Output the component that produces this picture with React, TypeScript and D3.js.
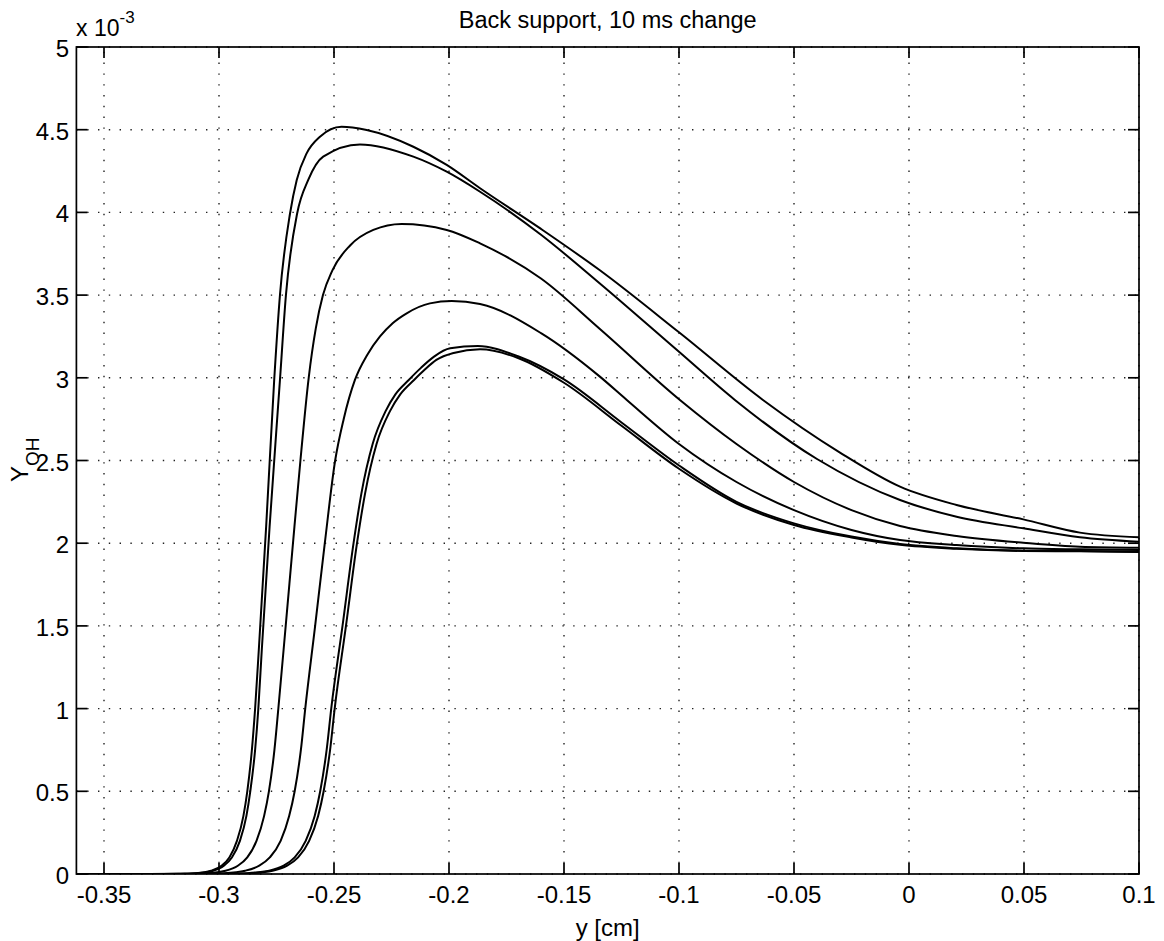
import React, { useRef, useEffect } from "react";
import * as d3 from "d3";

// x in cm, y in units of 1e-3
const curveA: [number, number][] = [
  [-0.362, 0], [-0.33, 0], [-0.318, 0.001], [-0.3101, 0.005], [-0.3034, 0.02], [-0.2989, 0.05],
  [-0.2955, 0.1], [-0.2922, 0.2], [-0.2894, 0.35], [-0.2877, 0.5], [-0.2857, 0.75], [-0.2843, 1.0],
  [-0.2827, 1.354], [-0.2795, 2.1], [-0.276, 2.987], [-0.2735, 3.5], [-0.2691, 3.995],
  [-0.2662, 4.196], [-0.2619, 4.357], [-0.2561, 4.458], [-0.2467, 4.518], [-0.2358, 4.498],
  [-0.2155, 4.397], [-0.201, 4.287], [-0.1865, 4.146], [-0.16, 3.9], [-0.1344, 3.65], [-0.1, 3.275],
  [-0.0635, 2.866], [-0.03, 2.548], [-0.0039, 2.342], [0.0207, 2.231], [0.0497, 2.144],
  [0.0743, 2.064], [0.1, 2.036],
];
const curveB: [number, number][] = [
  [-0.362, 0], [-0.328, 0], [-0.3174, 0.001], [-0.3094, 0.005], [-0.3025, 0.02], [-0.2979, 0.05],
  [-0.2944, 0.1], [-0.2909, 0.2], [-0.2881, 0.35], [-0.2864, 0.5], [-0.2843, 0.75], [-0.2829, 1.0],
  [-0.2814, 1.354], [-0.278, 2.1], [-0.2735, 2.987], [-0.2709, 3.5], [-0.266, 3.995],
  [-0.2612, 4.196], [-0.2547, 4.337], [-0.2387, 4.411], [-0.2155, 4.337], [-0.201, 4.246],
  [-0.1865, 4.125], [-0.16, 3.865], [-0.1344, 3.57], [-0.1, 3.157], [-0.0757, 2.866],
  [-0.04, 2.509], [-0.0039, 2.261], [0.0207, 2.16], [0.0497, 2.09], [0.0743, 2.036], [0.1, 2.009],
];
const curveC: [number, number][] = [
  [-0.362, 0], [-0.325, 0], [-0.3149, 0.001], [-0.3054, 0.005], [-0.2972, 0.02], [-0.2918, 0.05],
  [-0.2877, 0.1], [-0.2837, 0.2], [-0.2804, 0.35], [-0.2783, 0.5], [-0.2759, 0.75], [-0.2742, 1.0],
  [-0.271, 1.5], [-0.2672, 2.1], [-0.2646, 2.5], [-0.261, 3.0], [-0.2579, 3.3], [-0.2548, 3.5],
  [-0.2507, 3.65], [-0.243, 3.8], [-0.2329, 3.894], [-0.2206, 3.93], [-0.201, 3.894],
  [-0.1865, 3.813], [-0.16, 3.6], [-0.1344, 3.295], [-0.0996, 2.866], [-0.075, 2.6], [-0.05, 2.37],
  [-0.025, 2.2], [-0.0039, 2.104], [0.0207, 2.044], [0.0497, 2.003], [0.0743, 1.979], [0.1, 1.973],
];
const curveD: [number, number][] = [
  [-0.362, 0], [-0.318, 0], [-0.308, 0.001], [-0.2978, 0.005], [-0.2886, 0.02], [-0.2825, 0.05],
  [-0.2779, 0.1], [-0.2732, 0.2], [-0.2695, 0.35], [-0.2671, 0.5], [-0.2644, 0.75], [-0.2625, 1.0],
  [-0.2582, 1.5], [-0.254, 2.0], [-0.2495, 2.5], [-0.2458, 2.75], [-0.2409, 2.987], [-0.2355, 3.14],
  [-0.23, 3.25], [-0.2245, 3.33], [-0.2184, 3.39], [-0.2083, 3.45], [-0.1988, 3.464],
  [-0.1865, 3.446], [-0.16, 3.27], [-0.1344, 3.007], [-0.1227, 2.866], [-0.1, 2.6], [-0.075, 2.37],
  [-0.05, 2.2], [-0.025, 2.08], [-0.0039, 2.019], [0.0207, 1.989], [0.0497, 1.969], [0.0743, 1.963],
  [0.1, 1.959],
];
const curveE: [number, number][] = [
  [-0.362, 0], [-0.308, 0], [-0.298, 0.001], [-0.2877, 0.005], [-0.2782, 0.02], [-0.2719, 0.05],
  [-0.2671, 0.1], [-0.2623, 0.2], [-0.2584, 0.35], [-0.256, 0.5], [-0.2532, 0.75], [-0.2512, 1.0],
  [-0.2463, 1.5], [-0.2415, 2.0], [-0.2381, 2.3], [-0.2332, 2.6], [-0.2275, 2.8], [-0.2233, 2.9],
  [-0.2175, 2.987], [-0.2122, 3.06], [-0.2065, 3.128], [-0.1995, 3.178], [-0.1875, 3.192],
  [-0.17, 3.13], [-0.15, 2.99], [-0.125, 2.73], [-0.1, 2.47], [-0.075, 2.25], [-0.05, 2.12],
  [-0.025, 2.04], [-0.0039, 1.995], [0.0207, 1.969], [0.0497, 1.955], [0.0743, 1.953], [0.1, 1.949],
];
const curveF: [number, number][] = [
  [-0.362, 0], [-0.306, 0], [-0.2965, 0.001], [-0.2862, 0.005], [-0.2767, 0.02], [-0.2704, 0.05],
  [-0.2656, 0.1], [-0.2608, 0.2], [-0.2569, 0.35], [-0.2545, 0.5], [-0.2517, 0.75], [-0.2497, 1.0],
  [-0.2448, 1.5], [-0.24, 2.0], [-0.2365, 2.3], [-0.2315, 2.6], [-0.2256, 2.8], [-0.2212, 2.9],
  [-0.2152, 2.987], [-0.2105, 3.05], [-0.2055, 3.108], [-0.198, 3.15], [-0.1865, 3.172],
  [-0.17, 3.12], [-0.15, 2.97], [-0.125, 2.71], [-0.1, 2.45], [-0.075, 2.24], [-0.05, 2.11],
  [-0.025, 2.035], [-0.0039, 1.99], [0.0207, 1.966], [0.0497, 1.953], [0.0743, 1.951], [0.1, 1.947],
];
const curves = [curveA, curveB, curveC, curveD, curveE, curveF];

const xTicks = [-0.35, -0.3, -0.25, -0.2, -0.15, -0.1, -0.05, 0, 0.05, 0.1];
const xTickLabels = ["-0.35", "-0.3", "-0.25", "-0.2", "-0.15", "-0.1", "-0.05", "0", "0.05", "0.1"];
const yTicks = [0, 0.5, 1, 1.5, 2, 2.5, 3, 3.5, 4, 4.5, 5];
const yTickLabels = ["0", "0.5", "1", "1.5", "2", "2.5", "3", "3.5", "4", "4.5", "5"];

const W = 1164;
const H = 941;
const FONT = "'Liberation Sans', Arial, Helvetica, sans-serif";

export default function App() {
  const ref = useRef<SVGSVGElement>(null);
  useEffect(() => {
    const svg = d3.select(ref.current);
    svg.selectAll("*").remove();
    const left = 76.4, right = 1139, top = 47, bottom = 874;
    const x = d3.scaleLinear().domain([-0.362, 0.1]).range([left, right]);
    const y = d3.scaleLinear().domain([0, 5]).range([bottom, top]);

    svg.append("rect").attr("width", W).attr("height", H).attr("fill", "#fff");
    svg.append("clipPath").attr("id", "plotclip")
      .append("rect").attr("x", left).attr("y", top).attr("width", right - left).attr("height", bottom - top);

    // dotted grid
    const grid = svg.append("g").attr("stroke", "#222").attr("stroke-width", 1.4)
      .attr("stroke-dasharray", "1.4 9.4").attr("fill", "none");
    xTicks.forEach(t => {
      grid.append("line").attr("x1", x(t)).attr("x2", x(t)).attr("y1", bottom).attr("y2", top);
    });
    yTicks.forEach(t => {
      grid.append("line").attr("x1", left).attr("x2", right).attr("y1", y(t)).attr("y2", y(t));
    });

    // curves
    const line = d3.line<[number, number]>()
      .x(d => x(d[0]))
      .y(d => y(d[1]))
      .curve(d3.curveMonotoneX);
    svg.append("g").attr("clip-path", "url(#plotclip)")
      .selectAll("path").data(curves).enter().append("path")
      .attr("d", d => line(d))
      .attr("fill", "none").attr("stroke", "#000").attr("stroke-width", 2)
      .attr("stroke-linejoin", "round");

    // box + ticks
    const ax = svg.append("g").attr("stroke", "#000").attr("stroke-width", 1.7).attr("fill", "none");
    ax.append("rect").attr("x", left).attr("y", top).attr("width", right - left).attr("height", bottom - top);
    const tl = 11;
    xTicks.forEach(t => {
      ax.append("line").attr("x1", x(t)).attr("x2", x(t)).attr("y1", bottom).attr("y2", bottom - tl);
      ax.append("line").attr("x1", x(t)).attr("x2", x(t)).attr("y1", top).attr("y2", top + tl);
    });
    yTicks.forEach(t => {
      ax.append("line").attr("x1", left).attr("x2", left + tl).attr("y1", y(t)).attr("y2", y(t));
      ax.append("line").attr("x1", right).attr("x2", right - tl).attr("y1", y(t)).attr("y2", y(t));
    });

    // tick labels
    const txt = svg.append("g").attr("font-family", FONT).attr("font-size", 24).attr("fill", "#000");
    xTicks.forEach((t, i) => {
      txt.append("text").attr("x", x(t)).attr("y", 903).attr("text-anchor", "middle").text(xTickLabels[i]);
    });
    yTicks.forEach((t, i) => {
      txt.append("text").attr("x", 69).attr("y", y(t) + 10).attr("text-anchor", "end").text(yTickLabels[i]);
    });

    // exponent
    const ex = txt.append("text").attr("x", 76).attr("y", 36).attr("font-size", 23);
    ex.append("tspan").text("x 10");
    ex.append("tspan").attr("dy", -13).attr("font-size", 17).text("-3");

    // title
    txt.append("text").attr("x", (left + right) / 2).attr("y", 28).attr("text-anchor", "middle")
      .attr("font-size", 23.5).text("Back support, 10 ms change");

    // x label
    txt.append("text").attr("x", (left + right) / 2).attr("y", 936).attr("text-anchor", "middle").text("y [cm]");

    // y label
    const yl = txt.append("text").attr("transform", "translate(28,482) rotate(-90)");
    yl.append("tspan").text("Y");
    yl.append("tspan").attr("dy", 11).attr("font-size", 19).text("OH");
  }, []);
  return (
    <svg ref={ref} width={W} height={H}
      style={{ position: "absolute", left: 0, top: 0, display: "block" }} />
  );
}
